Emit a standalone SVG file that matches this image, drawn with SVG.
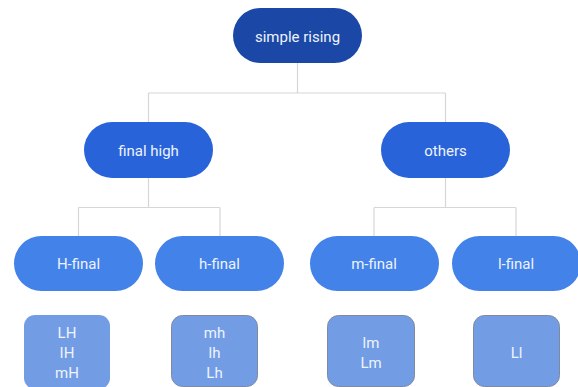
<svg xmlns="http://www.w3.org/2000/svg" width="578" height="387" viewBox="0 0 578 387">
<style>
text{font-family:Roboto,"Liberation Sans",sans-serif;fill:#eef3fd;text-anchor:middle;dominant-baseline:central}
.n text{font-size:15px}
.l text{font-size:15px}
.c{fill:none;stroke:#d6d6d6;stroke-width:1.2}
.r0{fill:#1b48a6}
.r1{fill:#2863d9}
.r2{fill:#4282e9}
.lf{fill:#729de4;stroke:#7f8aa0;stroke-width:1}
.lf0{fill:#729de4}
</style>
<rect width="578" height="387" fill="#fff"/>
<g id="connectors">
<path class="c" d="M297.5 63V93M148.5 93H445.5M148.5 93V122M445.5 93V122"/>
<path class="c" d="M148.5 178V207.5M78.5 207.5H220M78.5 207.5V236M220 207.5V236"/>
<path class="c" d="M445.5 178V207.5M374 207.5H516M374 207.5V236M516 207.5V236"/>
</g>
<g id="root" class="n"><rect class="r0" x="233" y="8" width="129" height="55" rx="27.5"/><text x="297.5" y="37">simple rising</text></g>
<g id="final-high" class="n"><rect class="r1" x="84" y="122" width="129" height="56" rx="28"/><text x="148.5" y="150.5">final high</text></g>
<g id="others" class="n"><rect class="r1" x="381" y="122" width="129" height="56" rx="28"/><text x="445.5" y="150.5">others</text></g>
<g id="H-final" class="n"><rect class="r2" x="14" y="236" width="129" height="55" rx="27.5"/><text x="78.5" y="264">H-final</text></g>
<g id="h-final" class="n"><rect class="r2" x="155" y="236" width="129" height="55" rx="27.5"/><text x="219.5" y="264">h-final</text></g>
<g id="m-final" class="n"><rect class="r2" x="310" y="236" width="129" height="55" rx="27.5"/><text x="374" y="264">m-final</text></g>
<g id="l-final" class="n"><rect class="r2" x="452" y="236" width="129" height="55" rx="27.5"/><text x="516" y="264">l-final</text></g>
<g id="leaf-H" class="l"><rect class="lf0" x="24" y="315" width="86" height="74" rx="11"/><text x="67" y="333">LH</text><text x="67" y="353">IH</text><text x="67" y="373">mH</text></g>
<g id="leaf-h" class="l"><rect class="lf" x="171.5" y="315.5" width="86" height="71" rx="11"/><text x="214.5" y="333">mh</text><text x="214.5" y="353">lh</text><text x="214.5" y="373">Lh</text></g>
<g id="leaf-m" class="l"><rect class="lf" x="327.5" y="315.5" width="87" height="71" rx="11"/><text x="371" y="343">lm</text><text x="371" y="363">Lm</text></g>
<g id="leaf-l" class="l"><rect class="lf" x="473.5" y="315.5" width="86" height="71" rx="11"/><text x="516.5" y="353">Ll</text></g>
</svg>
